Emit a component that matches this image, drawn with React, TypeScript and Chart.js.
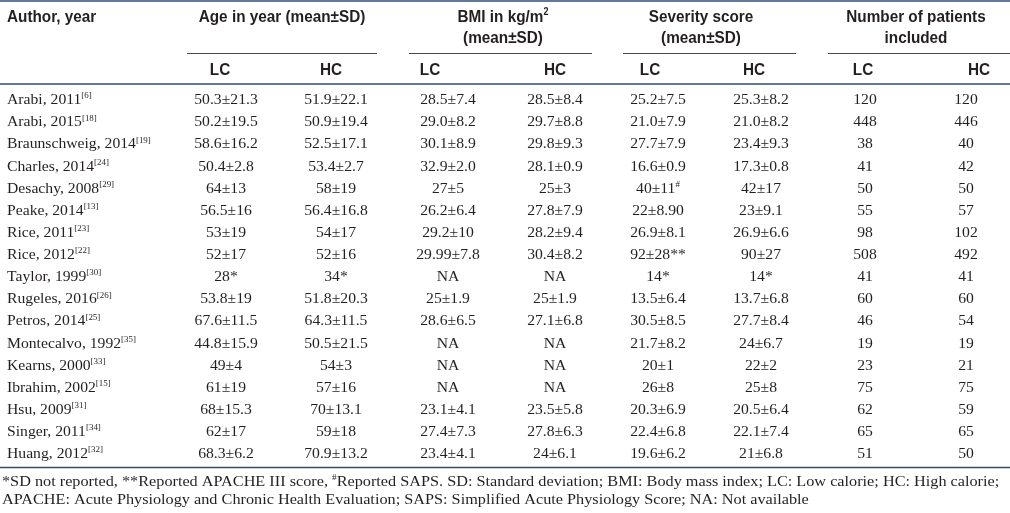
import { useEffect, useRef } from 'react';
import { Chart, registerables } from 'chart.js';
Chart.register(...registerables);

// ---------- data ----------
const authors = ['Arabi, 2011', 'Arabi, 2015', 'Braunschweig, 2014', 'Charles, 2014', 'Desachy, 2008', 'Peake, 2014', 'Rice, 2011', 'Rice, 2012', 'Taylor, 1999', 'Rugeles, 2016', 'Petros, 2014', 'Montecalvo, 1992', 'Kearns, 2000', 'Ibrahim, 2002', 'Hsu, 2009', 'Singer, 2011', 'Huang, 2012'];
const refs = ['6', '18', '19', '24', '29', '13', '23', '22', '30', '26', '25', '35', '33', '15', '31', '34', '32'];
const ageLC = ['50.3±21.3', '50.2±19.5', '58.6±16.2', '50.4±2.8', '64±13', '56.5±16', '53±19', '52±17', '28*', '53.8±19', '67.6±11.5', '44.8±15.9', '49±4', '61±19', '68±15.3', '62±17', '68.3±6.2'];
const ageHC = ['51.9±22.1', '50.9±19.4', '52.5±17.1', '53.4±2.7', '58±19', '56.4±16.8', '54±17', '52±16', '34*', '51.8±20.3', '64.3±11.5', '50.5±21.5', '54±3', '57±16', '70±13.1', '59±18', '70.9±13.2'];
const bmiLC = ['28.5±7.4', '29.0±8.2', '30.1±8.9', '32.9±2.0', '27±5', '26.2±6.4', '29.2±10', '29.99±7.8', 'NA', '25±1.9', '28.6±6.5', 'NA', 'NA', 'NA', '23.1±4.1', '27.4±7.3', '23.4±4.1'];
const bmiHC = ['28.5±8.4', '29.7±8.8', '29.8±9.3', '28.1±0.9', '25±3', '27.8±7.9', '28.2±9.4', '30.4±8.2', 'NA', '25±1.9', '27.1±6.8', 'NA', 'NA', 'NA', '23.5±5.8', '27.8±6.3', '24±6.1'];
const sevLC = ['25.2±7.5', '21.0±7.9', '27.7±7.9', '16.6±0.9', '40±11^#', '22±8.90', '26.9±8.1', '92±28**', '14*', '13.5±6.4', '30.5±8.5', '21.7±8.2', '20±1', '26±8', '20.3±6.9', '22.4±6.8', '19.6±6.2'];
const sevHC = ['25.3±8.2', '21.0±8.2', '23.4±9.3', '17.3±0.8', '42±17', '23±9.1', '26.9±6.6', '90±27', '14*', '13.7±6.8', '27.7±8.4', '24±6.7', '22±2', '25±8', '20.5±6.4', '22.1±7.4', '21±6.8'];
const nLC = [120, 448, 38, 41, 50, 55, 98, 508, 41, 60, 46, 19, 23, 75, 62, 65, 51];
const nHC = [120, 446, 40, 42, 50, 57, 102, 492, 41, 60, 54, 19, 21, 75, 59, 65, 50];

const groupTitles = [['Age in year (mean±SD)'], ['BMI in kg/m^2', '(mean±SD)'], ['Severity score', '(mean±SD)'], ['Number of patients', 'included']];
const subLabels = ['LC', 'HC', 'LC', 'HC', 'LC', 'HC', 'LC', 'HC'];
const firstHeader = 'Author, year';
const footnotes = [
  '*SD not reported, **Reported APACHE III score, ^#^Reported SAPS. SD: Standard deviation; BMI: Body mass index; LC: Low calorie; HC: High calorie;',
  'APACHE: Acute Physiology and Chronic Health Evaluation; SAPS: Simplified Acute Physiology Score; NA: Not available',
];

// ---------- layout (pixels) ----------
const W = 1010;
const H = 513;
const dataColX = [226, 336, 448, 555, 658, 761, 865, 966];
const subLabelX = [220, 331, 430, 555, 650, 754, 863, 979];
const groupX = [282, 503, 701, 916];
const groupLine = [[187, 377], [409, 592], [623, 796], [828, 1010]];
const LINE = '#2f4b78';
const TEXT = '#231f20';
const SERIF = "'Liberation Serif', 'Times New Roman', serif";
const SANS = "'Liberation Sans', Arial, sans-serif";
const SX = 1.12;
const HSX = 0.9;

function drawRich(ctx: CanvasRenderingContext2D, text: string, x: number, y: number, align: 'left' | 'center', size: number, family: string, weight: string, sx: number, supRatio = 0.58) {
  const parts = text.split('^');
  const fonts = parts.map((_, i) => (i % 2 === 1 ? `${weight} ${Math.round(size * supRatio)}px ${family}` : `${weight} ${size}px ${family}`));
  const widths = parts.map((p, i) => {
    ctx.font = fonts[i];
    return ctx.measureText(p).width * sx;
  });
  const total = widths.reduce((a, b) => a + b, 0);
  let cx = align === 'center' ? x - total / 2 : x;
  parts.forEach((p, i) => {
    ctx.save();
    ctx.font = fonts[i];
    ctx.translate(cx, i % 2 === 1 ? y - size * 0.3 : y);
    ctx.scale(sx, 1);
    ctx.textAlign = 'left';
    ctx.textBaseline = 'middle';
    ctx.fillText(p, 0, 0);
    ctx.restore();
    cx += widths[i];
  });
}

const tablePlugin = {
  id: 'tablePlugin',
  beforeDraw(chart: any) {
    const ctx: CanvasRenderingContext2D = chart.ctx;
    ctx.save();
    ctx.fillStyle = '#ffffff';
    ctx.fillRect(0, 0, chart.width, chart.height);
    ctx.restore();
  },
  afterDraw(chart: any) {
    const ctx: CanvasRenderingContext2D = chart.ctx;
    const xs = chart.scales.x;
    const ys = chart.scales.y;
    const px = (v: number) => xs.getPixelForValue(v);
    ctx.save();
    ctx.fillStyle = TEXT;

    // header
    drawRich(ctx, firstHeader, px(7), 17, 'left', 17, SANS, 'bold', HSX);
    groupTitles.forEach((lines, g) => {
      lines.forEach((t, k) => drawRich(ctx, t, px(groupX[g]), 17 + k * 21, 'center', 17, SANS, 'bold', HSX, 0.6));
    });
    subLabels.forEach((t, i) => drawRich(ctx, t, px(subLabelX[i]), 70, 'center', 17, SANS, 'bold', HSX));

    // body
    const cols = [ageLC, ageHC, bmiLC, bmiHC, sevLC, sevHC, nLC.map(String), nHC.map(String)];
    authors.forEach((a, i) => {
      const y = ys.getPixelForValue(i) + 1.5;
      drawRich(ctx, `${a}^[${refs[i]}]`, px(7), y, 'left', 14, SERIF, 'normal', SX);
      cols.forEach((col, c) => drawRich(ctx, col[i], px(dataColX[c]), y, 'center', 14, SERIF, 'normal', SX));
    });

    // footnotes
    const bottom = chart.chartArea.bottom;
    footnotes.forEach((t, k) => drawRich(ctx, t, px(2), bottom + 18 + k * 18, 'left', 14, SERIF, 'normal', 1.16));

    // rules
    ctx.strokeStyle = LINE;
    ctx.lineWidth = 1.4;
    const hline = (x1: number, x2: number, y: number) => {
      ctx.beginPath();
      ctx.moveTo(px(x1), y);
      ctx.lineTo(px(x2), y);
      ctx.stroke();
    };
    hline(0, W, 1);
    hline(0, W, chart.chartArea.top - 4);
    hline(0, W, bottom + 3.5);
    ctx.lineWidth = 1.1;
    groupLine.forEach(([a, b]) => hline(a, b, 53.5));
    ctx.restore();
  },
};

export default function App() {
  const ref = useRef<HTMLCanvasElement | null>(null);
  useEffect(() => {
    if (!ref.current) return;
    const chart = new Chart(ref.current, {
      type: 'scatter',
      data: {
        labels: authors,
        datasets: [],
      },
      options: {
        animation: false,
        responsive: false,
        maintainAspectRatio: false,
        layout: { padding: { top: 88, bottom: 49, left: 0, right: 0 } },
        plugins: { legend: { display: false }, tooltip: { enabled: false } },
        scales: {
          x: { type: 'linear', min: 0, max: W, display: false },
          y: { type: 'category', labels: authors, offset: true, display: false },
        },
      },
      plugins: [tablePlugin],
    } as any);
    return () => chart.destroy();
  }, []);
  return (
    <div style={{ position: 'absolute', left: 0, top: 0, width: W, height: H, background: '#fff' }}>
      <canvas ref={ref} width={W} height={H} style={{ display: 'block', width: W, height: H }} />
    </div>
  );
}
